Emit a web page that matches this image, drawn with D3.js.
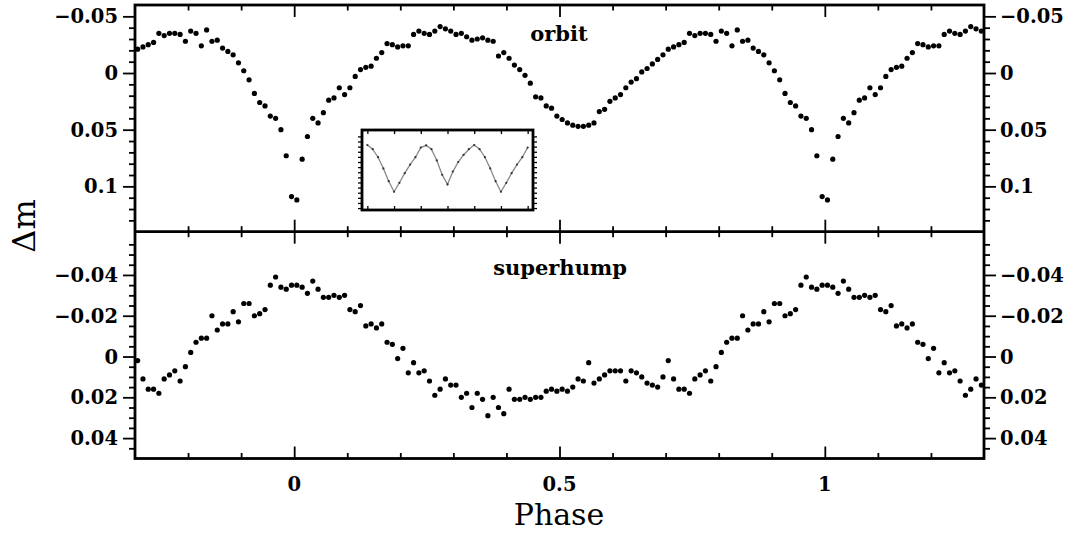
<!DOCTYPE html>
<html>
<head>
<meta charset="utf-8">
<script src="https://cdn.jsdelivr.net/npm/d3@7"></script>
<style>
  body { margin: 0; background: #fff; }
  text { font-family: "DejaVu Serif", serif; fill: #000; }
</style>
</head>
<body>
<div class="mainbody"></div>
<script>

// 轨道光变曲线，一个周期，相位分箱 0.01 (bin centre = (i+0.5)/100)
const orbitMag = [
   0.112,  0.076,  0.056,  0.040,  0.044,  0.035,  0.024,  0.022,  0.013,  0.019,
   0.013,  0.003, -0.003, -0.005, -0.006, -0.013, -0.018, -0.026, -0.025, -0.023,
  -0.024, -0.024, -0.034, -0.037, -0.035, -0.034, -0.037, -0.041, -0.039, -0.037,
  -0.034, -0.035, -0.032, -0.029, -0.030, -0.031, -0.029, -0.028, -0.015, -0.018,
  -0.013, -0.007, -0.003,  0.002,  0.009,  0.021,  0.022,  0.029,  0.031,  0.038,
   0.041,  0.044,  0.046,  0.047,  0.047,  0.046,  0.044,  0.034,  0.032,  0.025,
   0.022,  0.019,  0.013,  0.008,  0.005, -0.001, -0.004, -0.008, -0.012, -0.016,
  -0.021, -0.023, -0.025, -0.027, -0.035, -0.033, -0.035, -0.035, -0.034, -0.028,
  -0.037, -0.035, -0.024, -0.038, -0.028, -0.029, -0.022, -0.019, -0.016, -0.009,
  -0.002,  0.006,  0.018,  0.026,  0.029,  0.038,  0.040,  0.050,  0.073,  0.109
];

// superhump 光变曲线，同样分箱
const humpMag = [
  -0.035, -0.034, -0.031, -0.037, -0.033, -0.029, -0.029, -0.030, -0.029, -0.030,
  -0.023, -0.022, -0.025, -0.015, -0.016, -0.014, -0.016, -0.007, -0.006,  0.001,
  -0.004,  0.008,  0.003,  0.008,  0.007,  0.012,  0.019,  0.016,  0.011,  0.014,
   0.014,  0.020,  0.018,  0.025,  0.018,  0.021,  0.029,  0.020,  0.025,  0.028,
   0.016,  0.021,  0.021,  0.020,  0.021,  0.020,  0.020,  0.017,  0.016,  0.017,
   0.016,  0.017,  0.015,  0.011,  0.012,  0.003,  0.013,  0.011,  0.009,  0.007,
   0.007,  0.007,  0.012,  0.007,  0.008,  0.010,  0.013,  0.014,  0.015,  0.010,
   0.002,  0.011,  0.016,  0.016,  0.018,  0.011,  0.009,  0.007,  0.012,  0.005,
  -0.002, -0.007, -0.009, -0.009, -0.020, -0.013, -0.016, -0.016, -0.022, -0.017,
  -0.026, -0.026, -0.020, -0.021, -0.023, -0.035, -0.039, -0.034, -0.033, -0.035
];

// 小插图里的曲线，一个周期，步长 0.05
const insetMag = [
   0.093,  0.065,  0.035,  0.008, -0.015, -0.045, -0.052, -0.040, -0.005,  0.040,
   0.070,  0.030,  0.000, -0.022, -0.040, -0.053, -0.040, -0.015,  0.020,  0.060
];

// 刻度
const xMajor = [0, 0.5, 1];
const xLabels = ["0", "0.5", "1"];
const topMajor = [-0.05, 0, 0.05, 0.1];
const topLabels = ["\u22120.05", "0", "0.05", "0.1"];
const botMajor = [-0.04, -0.02, 0, 0.02, 0.04];
const botLabels = ["\u22120.04", "\u22120.02", "0", "0.02", "0.04"];
const panelNames = ["orbit", "superhump"];

let w = 1073, h = 533;
let padL = 135, padR = 984, padT = 5, padM = 231.7, padB = 458.5;

let svg = d3.select(".mainbody")
  .append("svg")
  .attr("width", w)
  .attr("height", h);

let x = d3.scaleLinear().domain([-0.3, 1.3]).range([padL, padR]);
let yTop = d3.scaleLinear().domain([-0.06, 0.14]).range([padT, padM]);
let yBot = d3.scaleLinear().domain([-0.0612, 0.05]).range([padM, padB]);

// 把一个周期的数据折叠展开到 -0.3 .. 1.3
function unfold(mags, step) {
  let pts = [];
  for (let k = -1; k <= 1; k++) {
    for (let i = 0; i < mags.length; i++) {
      let p = (i + 0.5) * step + k;
      if (p >= -0.3 && p <= 1.3) pts.push({ p: p, m: mags[i] });
    }
  }
  return pts;
}

function minorVals(a, b, step, majors) {
  let out = [];
  for (let v = Math.ceil(a / step - 1e-6); v * step <= b + 1e-9; v++) {
    let t = +(v * step).toFixed(4);
    if (majors.every(m => Math.abs(m - t) > 1e-6)) out.push(t);
  }
  return out;
}

// 画 x 方向的刻度（朝里）
function xTickRow(y, up) {
  let xMinor = minorVals(-0.3, 1.3, 0.1, xMajor).filter(d => d > -0.29 && d < 1.29);
  [[xMajor, 12], [xMinor, 5.5]].forEach(([vals, len]) => {
    let ax = (up ? d3.axisBottom(x) : d3.axisTop(x))
      .tickValues(vals).tickSize(-len).tickFormat("");
    let g = svg.append("g").attr("transform", "translate(0," + y + ")").call(ax);
    g.select(".domain").remove();
    g.selectAll("line").attr("stroke", "#000").attr("stroke-width", 1.8);
  });
}

// 画 y 方向的刻度和数字
function yTicks(scale, majors, labels, lo, hi, minorStep) {
  let minors = minorVals(lo, hi, minorStep, majors)
    .filter(d => scale(d) > scale.range()[0] + 3 && scale(d) < scale.range()[1] - 3);
  [[padL, d3.axisRight], [padR, d3.axisLeft]].forEach(([xx, fn]) => {
    [[majors, 12], [minors, 6]].forEach(([vals, len]) => {
      let g = svg.append("g")
        .attr("transform", "translate(" + xx + ",0)")
        .call(fn(scale).tickValues(vals).tickSize(-len).tickFormat(""));
      g.select(".domain").remove();
      g.selectAll("line").attr("stroke", "#000").attr("stroke-width", 1.8);
    });
  });
  // 数字
  svg.append("g").selectAll("text")
    .data(majors).enter().append("text")
    .attr("x", padL - 17).attr("y", d => scale(d) + 7)
    .attr("text-anchor", "end")
    .attr("font-size", 19.5).attr("font-weight", "bold")
    .text((d, i) => labels[i]);
  svg.append("g").selectAll("text")
    .data(majors).enter().append("text")
    .attr("x", padR + 16).attr("y", d => scale(d) + 7)
    .attr("text-anchor", "start")
    .attr("font-size", 19.5).attr("font-weight", "bold")
    .text((d, i) => labels[i]);
}

xTickRow(padT, false);
xTickRow(padM, true);
xTickRow(padM, false);
xTickRow(padB, true);
yTicks(yTop, topMajor, topLabels, -0.06, 0.14, 0.01);
yTicks(yBot, botMajor, botLabels, -0.06, 0.05, 0.005);

// 数据点
svg.append("g").selectAll("circle")
  .data(unfold(orbitMag, 0.01)).enter().append("circle")
  .attr("cx", d => x(d.p)).attr("cy", d => yTop(d.m))
  .attr("r", 2.6).attr("fill", "#000");

svg.append("g").selectAll("circle")
  .data(unfold(humpMag, 0.01)).enter().append("circle")
  .attr("cx", d => x(d.p)).attr("cy", d => yBot(d.m))
  .attr("r", 2.6).attr("fill", "#000");

// 插图
let ix = d3.scaleLinear().domain([-0.3, 1.3]).range([362, 533]);
let iy = d3.scaleLinear().domain([-0.1, 0.15]).range([130, 210]);
let insetPts = unfold(insetMag, 0.05).map(d => ({ p: d.p - 0.025, m: d.m }))
  .filter(d => d.p >= -0.28 && d.p <= 1.28);

svg.append("path")
  .datum(insetPts)
  .attr("fill", "none").attr("stroke", "#888").attr("stroke-width", 1.3)
  .attr("d", d3.line().x(d => ix(d.p)).y(d => iy(d.m)));
svg.append("g").selectAll("circle")
  .data(insetPts).enter().append("circle")
  .attr("cx", d => ix(d.p)).attr("cy", d => iy(d.m))
  .attr("r", 1.1).attr("fill", "#333");

let ixTicks = [-0.25, 0, 0.25, 0.5, 0.75, 1, 1.25];
[[130, d3.axisTop], [210, d3.axisBottom]].forEach(([yy, fn]) => {
  let g = svg.append("g").attr("transform", "translate(0," + yy + ")")
    .call(fn(ix).tickValues(ixTicks).tickSize(-4).tickFormat(""));
  g.select(".domain").remove();
  g.selectAll("line").attr("stroke", "#000").attr("stroke-width", 1.3);
});
let iyTicks = d3.range(-0.08, 0.15, 0.016);
[[362, d3.axisRight], [533, d3.axisLeft]].forEach(([xx, fn]) => {
  let g = svg.append("g").attr("transform", "translate(" + xx + ",0)")
    .call(fn(iy).tickValues(iyTicks).tickSize(-4).tickFormat(""));
  g.select(".domain").remove();
  g.selectAll("line").attr("stroke", "#000").attr("stroke-width", 1.3);
});
svg.append("rect")
  .attr("x", 362).attr("y", 130).attr("width", 171).attr("height", 80)
  .attr("fill", "none").attr("stroke", "#000").attr("stroke-width", 2.8);

// 外框
svg.append("rect")
  .attr("x", padL).attr("y", padT)
  .attr("width", padR - padL).attr("height", padB - padT)
  .attr("fill", "none").attr("stroke", "#000").attr("stroke-width", 2.8);
svg.append("line")
  .attr("x1", padL).attr("x2", padR).attr("y1", padM).attr("y2", padM)
  .attr("stroke", "#000").attr("stroke-width", 2.8);

// x 轴数字
svg.append("g").selectAll("text")
  .data(xMajor).enter().append("text")
  .attr("x", d => x(d)).attr("y", 491)
  .attr("text-anchor", "middle")
  .attr("font-size", 19.5).attr("font-weight", "bold")
  .text((d, i) => xLabels[i]);

// 标题文字
svg.append("text")
  .attr("x", 559).attr("y", 41).attr("text-anchor", "middle")
  .attr("font-size", 21).attr("font-weight", "bold")
  .text(panelNames[0]);
svg.append("text")
  .attr("x", 560).attr("y", 275).attr("text-anchor", "middle")
  .attr("font-size", 21).attr("font-weight", "bold")
  .text(panelNames[1]);

svg.append("text")
  .attr("x", 559).attr("y", 525).attr("text-anchor", "middle")
  .attr("font-size", 30)
  .text("Phase");
svg.append("text")
  .attr("transform", "translate(35,226) rotate(-90)")
  .attr("text-anchor", "middle")
  .attr("font-size", 32)
  .text("\u0394m");

</script>
</body>
</html>
